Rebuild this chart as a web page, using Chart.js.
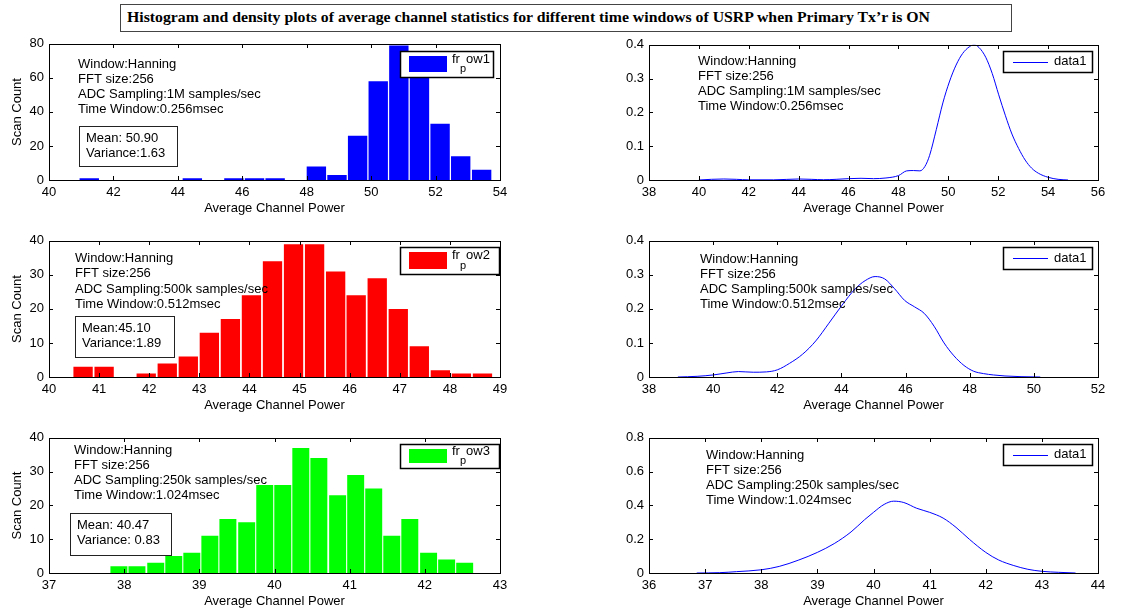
<!DOCTYPE html>
<html>
<head>
<meta charset="utf-8">
<script src="https://cdn.jsdelivr.net/npm/chart.js@4.4.0/dist/chart.umd.min.js"></script>
<style>
body { margin: 0; background: #fff; width: 1123px; height: 611px; overflow: hidden; position: relative; }
#title { position: absolute; left: 120px; top: 4px; width: 892px; height: 28px; border: 1px solid #444; box-sizing: border-box; }
#title span { position: absolute; left: 6px; top: 4px; font: bold 15px "Liberation Serif", "Times New Roman", serif; white-space: nowrap; transform-origin: 0 0; color: #000; }
</style>
</head>
<body>
<div id="title"><span id="titleText">Histogram and density plots of average channel statistics for different time windows of USRP when Primary Tx’r is ON</span></div>
<script>
// histogram bin centres and counts (300 scans per window)
const power1Bins = [41.25, 41.89, 42.53, 43.17, 43.81, 44.45, 45.10, 45.74, 46.38, 47.02, 47.66, 48.30, 48.94, 49.58, 50.22, 50.86, 51.50, 52.14, 52.78, 53.43];
const power1Counts = [1, 0, 0, 0, 0, 1, 0, 1, 1, 1, 0, 8, 3, 26, 58, 79, 68, 33, 14, 6];

const power2Bins = [40.68, 41.10, 41.52, 41.94, 42.36, 42.78, 43.20, 43.62, 44.04, 44.46, 44.88, 45.30, 45.72, 46.13, 46.55, 46.97, 47.39, 47.81, 48.23, 48.65];
const power2Counts = [3, 3, 0, 1, 4, 6, 13, 17, 24, 34, 39, 39, 31, 24, 29, 20, 9, 2, 1, 1];

const power3Bins = [37.93, 38.17, 38.42, 38.66, 38.90, 39.14, 39.38, 39.63, 39.87, 40.11, 40.35, 40.59, 40.84, 41.08, 41.32, 41.56, 41.80, 42.05, 42.29, 42.53];
const power3Counts = [2, 2, 3, 5, 6, 11, 16, 15, 26, 26, 37, 34, 23, 29, 25, 11, 16, 6, 4, 3];

// density estimates
const dens1X = [40, 40.5, 41, 41.5, 42, 43, 44, 44.5, 45, 45.5, 46, 46.5, 47, 47.5, 48, 48.33, 48.6, 48.86, 49.06, 49.25, 49.52, 49.78, 50.04, 50.31, 50.57, 50.84, 51.03, 51.23, 51.5, 51.76, 52.02, 52.29, 52.55, 52.82, 53.08, 53.34, 53.61, 54.0, 54.4, 54.8];
const dens1Y = [0, 0.002, 0.003, 0.002, 0.0005, 0.0005, 0.003, 0.002, 0.0008, 0.002, 0.004, 0.005, 0.004, 0.006, 0.013, 0.027, 0.028, 0.027, 0.04, 0.073, 0.15, 0.228, 0.29, 0.34, 0.374, 0.394, 0.40, 0.392, 0.363, 0.315, 0.252, 0.19, 0.136, 0.093, 0.059, 0.035, 0.02, 0.008, 0.002, 0];

const dens2X = [38.9, 39.5, 40, 40.43, 40.79, 41.25, 41.66, 42, 42.38, 42.79, 43.2, 43.61, 44.02, 44.43, 44.74, 45.05, 45.35, 45.66, 45.97, 46.28, 46.58, 46.89, 47.2, 47.51, 47.82, 48.12, 48.43, 48.74, 49.1, 49.6, 50.2];
const dens2Y = [0, 0.002, 0.006, 0.012, 0.016, 0.014, 0.015, 0.021, 0.04, 0.067, 0.106, 0.158, 0.211, 0.259, 0.283, 0.295, 0.288, 0.259, 0.225, 0.206, 0.187, 0.149, 0.1, 0.062, 0.034, 0.017, 0.01, 0.006, 0.003, 0.001, 0];

const dens3X = [36.85, 37.26, 37.56, 38.0, 38.32, 38.67, 39.0, 39.3, 39.6, 39.84, 40.0, 40.19, 40.36, 40.54, 40.77, 41.0, 41.24, 41.47, 41.71, 42.0, 42.23, 42.5, 42.75, 43.0, 43.3, 43.6];
const dens3Y = [0, 0.002, 0.008, 0.019, 0.039, 0.077, 0.122, 0.174, 0.243, 0.315, 0.359, 0.406, 0.425, 0.417, 0.383, 0.359, 0.325, 0.27, 0.199, 0.122, 0.077, 0.044, 0.022, 0.01, 0.004, 0];

// annotation texts
const notes1 = ["Window:Hanning", "FFT size:256", "ADC Sampling:1M samples/sec", "Time Window:0.256msec"];
const notes2 = ["Window:Hanning", "FFT size:256", "ADC Sampling:500k samples/sec", "Time Window:0.512msec"];
const notes3 = ["Window:Hanning", "FFT size:256", "ADC Sampling:250k samples/sec", "Time Window:1.024msec"];
const stats1 = ["Mean: 50.90", "Variance:1.63"];
const stats2 = ["Mean:45.10", "Variance:1.89"];
const stats3 = ["Mean: 40.47", "Variance: 0.83"];

const FONT = '13px "Liberation Sans", Arial, sans-serif';
const PAD_L = 45, PAD_R = 15, PAD_T = 10, PAD_B = 40;

Chart.defaults.font.family = '"Liberation Sans", Arial, sans-serif';
Chart.defaults.font.size = 13;
Chart.defaults.color = '#000';

// MATLAB-like frame: box, inward ticks, axis titles, text notes, legend
const matlabFrame = {
    id: "matlabFrame",
    afterDraw(chart, args, opts) {
        const ctx = chart.ctx;
        const a = chart.chartArea;
        const L = Math.round(a.left), T = Math.round(a.top), R = Math.round(a.right), B = Math.round(a.bottom);
        ctx.save();
        ctx.strokeStyle = "#000";
        ctx.lineWidth = 1;
        ctx.strokeRect(L + 0.5, T + 0.5, R - L, B - T);

        const tl = 4;
        ctx.beginPath();
        chart.scales.x.ticks.forEach(t => {
            const px = Math.round(chart.scales.x.getPixelForValue(t.value)) + 0.5;
            ctx.moveTo(px, B); ctx.lineTo(px, B - tl);
            ctx.moveTo(px, T); ctx.lineTo(px, T + tl);
        });
        chart.scales.y.ticks.forEach(t => {
            const py = Math.round(chart.scales.y.getPixelForValue(t.value)) + 0.5;
            ctx.moveTo(L, py); ctx.lineTo(L + tl, py);
            ctx.moveTo(R, py); ctx.lineTo(R - tl, py);
        });
        ctx.stroke();

        ctx.fillStyle = "#000";
        ctx.font = FONT;
        ctx.textBaseline = "middle";

        // x title
        ctx.textAlign = "center";
        ctx.fillText("Average Channel Power", (L + R) / 2, B + 28);
        // y title
        if (opts.yTitle) {
            ctx.save();
            ctx.translate(L - 32, (T + B) / 2);
            ctx.rotate(-Math.PI / 2);
            ctx.fillText(opts.yTitle, 0, 0);
            ctx.restore();
        }

        // notes
        ctx.textAlign = "left";
        opts.notes.forEach((s, i) => {
            ctx.fillText(s, L + opts.noteX, T + opts.noteY + i * opts.noteStep);
        });

        // stat box
        if (opts.stats) {
            const b = opts.statBox;
            ctx.strokeStyle = "#222";
            ctx.strokeRect(L + b[0] + 0.5, T + b[1] + 0.5, b[2], b[3]);
            opts.stats.forEach((s, i) => {
                ctx.fillText(s, L + b[0] + 7, T + b[1] + 12 + i * 15.5);
            });
        }

        // legend
        const lg = opts.legend;
        ctx.fillStyle = "#fff";
        ctx.fillRect(L + lg.box[0], T + lg.box[1], lg.box[2], lg.box[3]);
        ctx.strokeStyle = "#000";
        ctx.lineWidth = 1.5;
        ctx.strokeRect(L + lg.box[0] + 0.5, T + lg.box[1] + 0.5, lg.box[2], lg.box[3]);
        ctx.lineWidth = 1;
        const ly = T + lg.box[1] + lg.box[3] / 2;
        if (lg.patch) {
            ctx.fillStyle = lg.color;
            ctx.fillRect(L + lg.box[0] + 9, T + lg.box[1] + 5, 38, lg.box[3] - 10);
            ctx.fillStyle = "#000";
            const tx = L + lg.box[0] + 52;
            const ty = ly - 5;
            ctx.fillText("fr", tx, ty);
            const w1 = ctx.measureText("fr").width;
            ctx.font = '11px "Liberation Sans", Arial, sans-serif';
            ctx.fillText("p", tx + w1, ty + 10);
            const w2 = ctx.measureText("p").width;
            ctx.font = FONT;
            ctx.fillText(lg.label, tx + w1 + w2, ty);
        } else {
            ctx.strokeStyle = lg.color;
            ctx.beginPath();
            ctx.moveTo(L + lg.box[0] + 10, Math.round(ly) + 0.5);
            ctx.lineTo(L + lg.box[0] + 45, Math.round(ly) + 0.5);
            ctx.stroke();
            ctx.fillStyle = "#000";
            ctx.fillText("data1", L + lg.box[0] + 51, ly);
        }
        ctx.restore();
    }
};

function makePanel(p) {
    const [x0, y0, x1, y1] = p.rect;
    const W = x1 - x0 + PAD_L + PAD_R, H = y1 - y0 + PAD_T + PAD_B;
    const canvas = document.createElement("canvas");
    canvas.width = W;
    canvas.height = H;
    canvas.style.cssText = `position:absolute;left:${x0 - PAD_L}px;top:${y0 - PAD_T}px;width:${W}px;height:${H}px;`;
    document.body.appendChild(canvas);

    let dataset;
    if (p.type === "bar") {
        dataset = {
            data: p.xs.map((x, i) => ({ x: x, y: p.ys[i] })),
            backgroundColor: p.color,
            borderWidth: 0,
            barPercentage: 0.94,
            categoryPercentage: 1
        };
    } else {
        dataset = {
            data: p.xs.map((x, i) => ({ x: x, y: p.ys[i] })),
            borderColor: "#0000ff",
            borderWidth: 1,
            pointRadius: 0,
            fill: false,
            tension: 0.4,
            cubicInterpolationMode: "monotone"
        };
    }

    new Chart(canvas, {
        type: p.type,
        data: { datasets: [dataset] },
        options: {
            responsive: false,
            animation: false,
            devicePixelRatio: 1,
            layout: { padding: { left: 0, right: PAD_R, top: PAD_T, bottom: 0 } },
            plugins: {
                legend: { display: false },
                tooltip: { enabled: false },
                matlabFrame: p.frame
            },
            scales: {
                x: {
                    type: "linear",
                    min: p.xRange[0], max: p.xRange[1],
                    offset: false,
                    grid: { display: false, drawTicks: false },
                    border: { display: false },
                    ticks: { stepSize: p.xRange[2], padding: 5, autoSkip: false, maxRotation: 0 },
                    afterFit: s => { s.height = PAD_B; }
                },
                y: {
                    min: p.yRange[0], max: p.yRange[1],
                    grid: { display: false, drawTicks: false },
                    border: { display: false },
                    ticks: { stepSize: p.yRange[2], padding: 5 },
                    afterFit: s => { s.width = PAD_L; }
                }
            }
        },
        plugins: [matlabFrame]
    });
}

const histLegendBox = [351, 7, 93, 26];
const lineLegendBox = [354, 6, 89, 21];

makePanel({
    type: "bar", rect: [49, 41, 500, 180], xs: power1Bins, ys: power1Counts, color: "#0000ff",
    xRange: [40, 54, 2], yRange: [0, 80, 20],
    frame: { yTitle: "Scan Count", notes: notes1, noteX: 29, noteY: 20, noteStep: 15.3,
        stats: stats1, statBox: [30, 82, 98, 40],
        legend: { patch: true, color: "#0000ff", label: "ow1", box: histLegendBox } }
});
makePanel({
    type: "bar", rect: [49, 238, 500, 377], xs: power2Bins, ys: power2Counts, color: "#ff0000",
    xRange: [40, 49, 1], yRange: [0, 40, 10],
    frame: { yTitle: "Scan Count", notes: notes2, noteX: 26, noteY: 17, noteStep: 15.5,
        stats: stats2, statBox: [26, 75, 99, 41],
        legend: { patch: true, color: "#ff0000", label: "ow2", box: [351, 6, 99, 27] } }
});
makePanel({
    type: "bar", rect: [49, 435, 500, 573], xs: power3Bins, ys: power3Counts, color: "#00ff00",
    xRange: [37, 43, 1], yRange: [0, 40, 10],
    frame: { yTitle: "Scan Count", notes: notes3, noteX: 25, noteY: 12, noteStep: 15.2,
        stats: stats3, statBox: [21, 75, 101, 42],
        legend: { patch: true, color: "#00ff00", label: "ow3", box: [351, 6, 99, 24] } }
});
makePanel({
    type: "line", rect: [649, 42, 1098, 180], xs: dens1X, ys: dens1Y,
    xRange: [38, 56, 2], yRange: [0, 0.4, 0.1],
    frame: { notes: notes1, noteX: 49, noteY: 16, noteStep: 15,
        legend: { patch: false, color: "#0000ff", box: lineLegendBox } }
});
makePanel({
    type: "line", rect: [649, 238, 1098, 377], xs: dens2X, ys: dens2Y,
    xRange: [38, 52, 2], yRange: [0, 0.4, 0.1],
    frame: { notes: notes2, noteX: 51, noteY: 18, noteStep: 15.3,
        legend: { patch: false, color: "#0000ff", box: [354, 6, 89, 22] } }
});
makePanel({
    type: "line", rect: [649, 435, 1098, 573], xs: dens3X, ys: dens3Y,
    xRange: [36, 44, 1], yRange: [0, 0.8, 0.2],
    frame: { notes: notes3, noteX: 57, noteY: 17, noteStep: 15.3,
        legend: { patch: false, color: "#0000ff", box: lineLegendBox } }
});

// squeeze the title to the width it has in the figure
const titleSpan = document.getElementById("titleText");
titleSpan.style.transform = `scaleX(${803 / titleSpan.offsetWidth})`;
</script>
</body>
</html>
